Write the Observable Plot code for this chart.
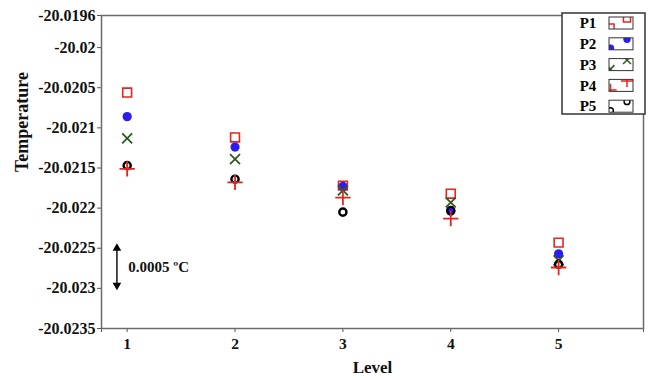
<!DOCTYPE html>
<html>
<head>
<meta charset="utf-8">
<script src="https://cdn.jsdelivr.net/npm/d3@7"></script>
<script src="https://cdn.jsdelivr.net/npm/@observablehq/plot@0.6"></script>
<style>
  html, body { margin: 0; padding: 0; background: white; }
  #wrap { position: relative; width: 653px; height: 380px; font-family: "Liberation Serif", "Times New Roman", serif; }
  #wrap svg text { font-family: "Liberation Serif", "Times New Roman", serif; }
  #legend { position: absolute; left: 0; top: 0; }
</style>
</head>
<body>
<div id="wrap"></div>
<script>
// ---- data ----
const levels = [1, 2, 3, 4, 5];
const seriesNames = ["P1", "P2", "P3", "P4", "P5"];
const P1 = [-20.02056, -20.02112, -20.02172, -20.02182, -20.02243];
const P2 = [-20.02086, -20.02124, -20.02173, -20.02204, -20.02257];
const P3 = [-20.02113, -20.02139, -20.02178, -20.02193, -20.02265];
const P4 = [-20.02151, -20.02168, -20.02187, -20.02213, -20.02274];
const P5 = [-20.02147, -20.02164, -20.02205, -20.02203, -20.02270];
const yTicks = [-20.0196, -20.02, -20.0205, -20.021, -20.0215, -20.022, -20.0225, -20.023, -20.0235];
const xTitle = "Level";
const yTitle = "Temperature";
const noteLabel = "0.0005 ºC";
const noteX = 0.905;
const noteTop = -20.0225;
const noteBottom = -20.02296;
const noteTextX = 1.01;
const noteTextY = -20.02273;

const serif = "'Liberation Serif', 'Times New Roman', serif";

// ---- styles ----
const styles = {
  P1: {symbol: "square", stroke: "#e8231f", fill: "none", r: 5, strokeWidth: 1.6},
  P2: {symbol: "circle", stroke: "none", fill: "#2b1cf5", r: 4.6, strokeWidth: 0},
  P3: {symbol: "times", stroke: "#2d5a1e", fill: "none", r: 4.6, strokeWidth: 1.8},
  P4: {symbol: "plus", stroke: "#e8231f", fill: "none", r: 5, strokeWidth: 1.8},
  P5: {symbol: "circle", stroke: "#000", fill: "none", r: 3.6, strokeWidth: 2.4}
};
const seriesValues = {P1, P2, P3, P4, P5};
const rows = seriesNames.flatMap(name => levels.map((l, i) => ({name, level: l, value: seriesValues[name][i]})));

const xDomain = [0.762, 5.787];
const yDomain = [-20.0235, -20.0196];
const xTickValues = [xDomain[0], ...levels, xDomain[1]];

const dotMarks = ["P1", "P2", "P3", "P5", "P4"].map(name => Plot.dot(rows.filter(d => d.name === name), {
  x: "level", y: "value", ...styles[name]
}));

const chart = Plot.plot({
  width: 653, height: 380,
  marginLeft: 101, marginRight: 10, marginTop: 15, marginBottom: 52,
  style: {fontFamily: serif, background: "white", color: "#111"},
  x: {domain: xDomain},
  y: {domain: yDomain},
  marks: [
    Plot.axisY({ticks: yTicks, tickFormat: d => String(d), tickSize: 4, tickPadding: 2, fontSize: 16, fontWeight: "bold", fontFamily: serif, label: null, stroke: "#555"}),
    Plot.axisX({ticks: xTickValues, tickFormat: d => levels.includes(d) ? String(d) : "", tickSize: 4, tickPadding: 5, fontSize: 15.5, fontWeight: "bold", fontFamily: serif, label: null, stroke: "#555"}),
    Plot.frame({stroke: "#6a6a6a", strokeWidth: 1.5}),
    Plot.text([xTitle], {text: d => d, frameAnchor: "bottom", dy: 39, lineAnchor: "middle", fontSize: 17, fontWeight: "bold", fontFamily: serif}),
    Plot.text([yTitle], {text: d => d, frameAnchor: "left", dx: -79, rotate: -90, lineAnchor: "middle", fontSize: 18, fontWeight: "bold", fontFamily: serif}),
    Plot.link([noteLabel], {x1: () => noteX, x2: () => noteX, y1: () => noteTop + 0.00004, y2: () => noteBottom - 0.00004, stroke: "#000", strokeWidth: 1.4}),
    Plot.dot([{y: noteTop, a: 0}, {y: noteBottom, a: 180}], {x: () => noteX, y: "y", rotate: "a", symbol: "triangle", fill: "#000", r: 3.2}),
    Plot.text([noteLabel], {x: () => noteTextX, y: () => noteTextY, text: d => d, textAnchor: "start", fontSize: 15, fontWeight: "bold", fontFamily: serif}),
    ...dotMarks
  ]
});
const wrap = document.getElementById("wrap");
wrap.appendChild(chart);

// ---- legend (overlay) ----
const leg = d3.select(wrap).append("svg").attr("id", "legend").attr("width", 653).attr("height", 380);
const lx = 562, ly = 13, lw = 83, lh = 101;
leg.append("rect").attr("x", lx).attr("y", ly).attr("width", lw).attr("height", lh)
  .attr("fill", "white").attr("stroke", "#333").attr("stroke-width", 1.5);
const symMap = {square: d3.symbolSquare, circle: d3.symbolCircle, times: d3.symbolTimes, plus: d3.symbolPlus};
seriesNames.forEach((name, i) => {
  const cy = ly + 10 + i * 20.8;
  leg.append("text").attr("x", 588).attr("y", cy).attr("dy", "0.35em").attr("text-anchor", "middle")
    .attr("font-size", 15).attr("font-weight", "bold").attr("font-family", serif).text(name);
  const sx = 609, sy = cy - 6, sw = 24, sh = 12;
  const cid = "clip" + i;
  leg.append("clipPath").attr("id", cid).append("rect").attr("x", sx).attr("y", sy).attr("width", sw).attr("height", sh);
  const st = styles[name];
  const g = leg.append("g").attr("clip-path", `url(#${cid})`);
  const rr = st.r * 0.8;
  const path = d3.symbol(symMap[st.symbol], Math.PI * rr * rr)();
  [[sx + 18, sy + 1.5], [sx + 1.5, sy + sh - 1.5]].forEach(([px, py]) => {
    g.append("path").attr("d", path).attr("transform", `translate(${px},${py})`)
      .attr("fill", st.fill).attr("stroke", st.stroke).attr("stroke-width", Math.min(st.strokeWidth, 1.5));
  });
  leg.append("rect").attr("x", sx).attr("y", sy).attr("width", sw).attr("height", sh)
    .attr("fill", "none").attr("stroke", "#333").attr("stroke-width", 1);
});
</script>
</body>
</html>
